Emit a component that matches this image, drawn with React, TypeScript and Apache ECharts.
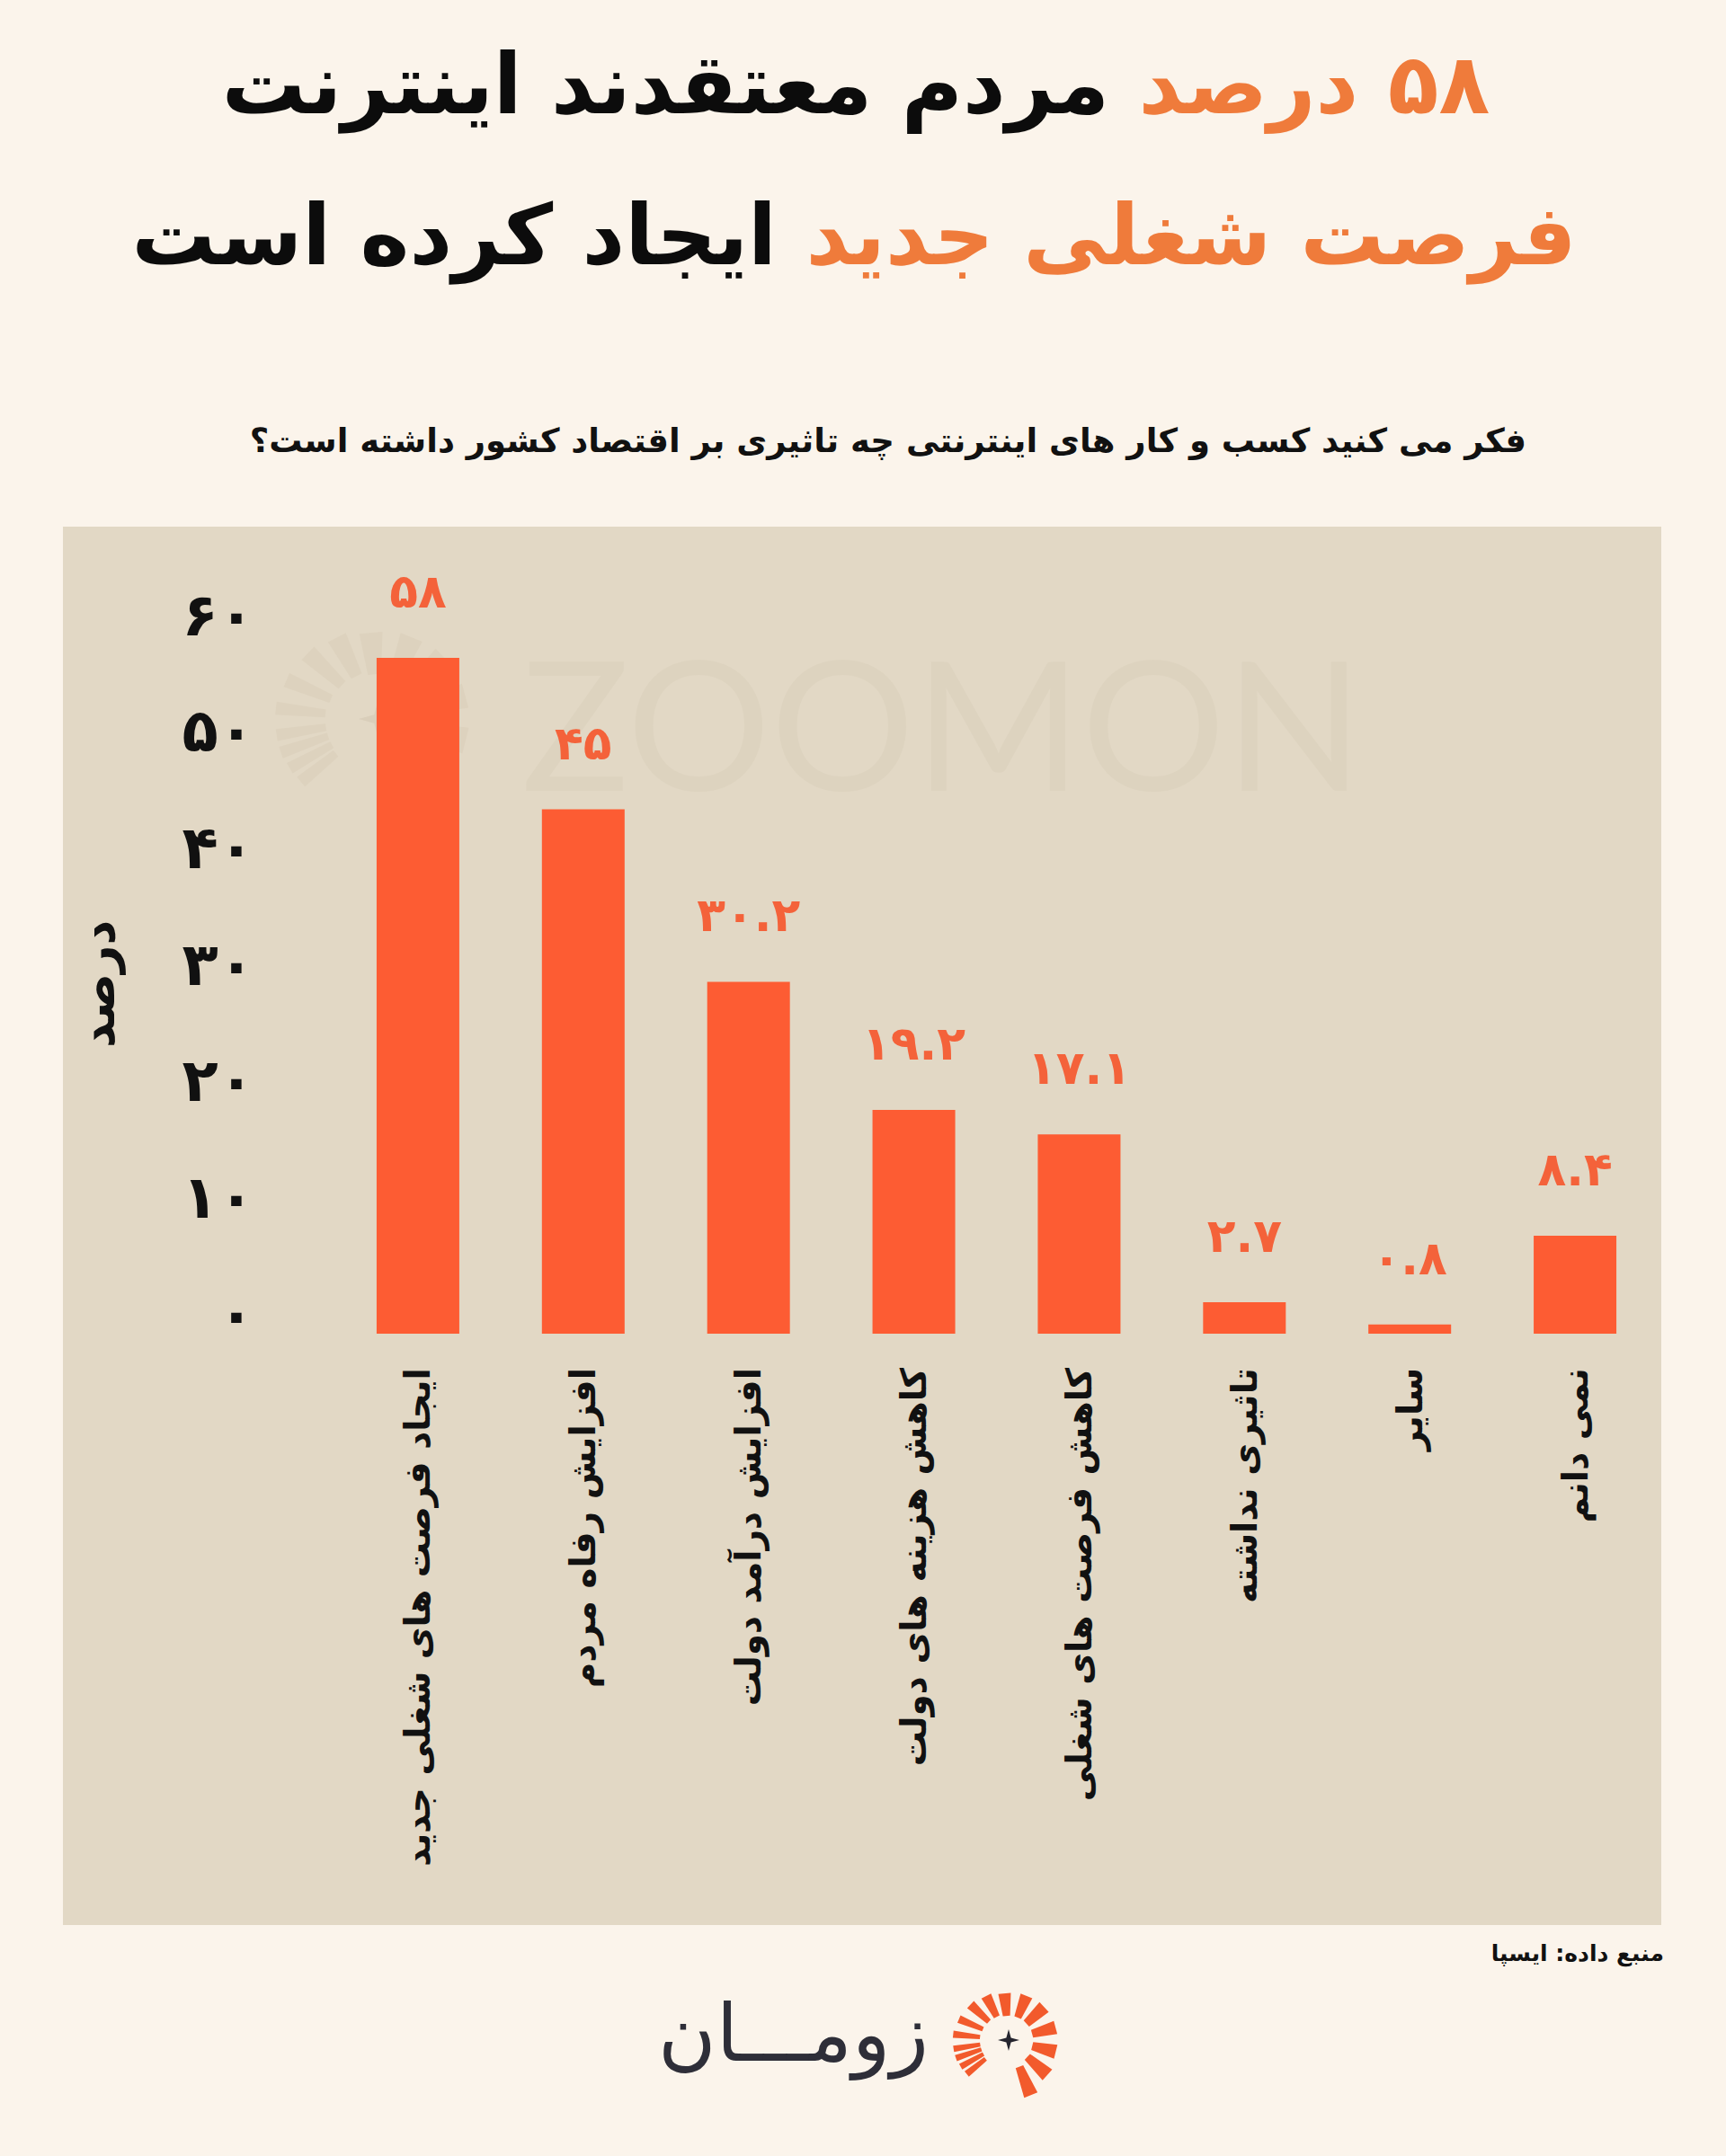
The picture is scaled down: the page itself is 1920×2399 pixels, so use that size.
import React, { useEffect, useRef } from "react";
import * as echarts from "echarts";

const categories = [
  "ایجاد فرصت های شغلی جدید",
  "افزایش رفاه مردم",
  "افزایش درآمد دولت",
  "کاهش هزینه های دولت",
  "کاهش فرصت های شغلی",
  "تاثیری نداشته",
  "سایر",
  "نمی دانم",
];
const values = [58, 45, 30.2, 19.2, 17.1, 2.7, 0.8, 8.4];
const yTickLabels = ["۰", "۱۰", "۲۰", "۳۰", "۴۰", "۵۰", "۶۰"];

const titleLine1Black = "مردم معتقدند اینترنت";
const titleLine1Number = "۵۸";
const titleLine1Word = "درصد";
const titleLine2Black = "ایجاد کرده است";
const titleLine2Orange = "فرصت شغلی جدید";
const subtitle = "فکر می کنید کسب و کار های اینترنتی چه تاثیری بر اقتصاد کشور داشته است؟";
const yAxisName = "درصد";
const sourceText = "منبع داده: ایسپا";
const brandText = "زومـــان";
const watermarkText = "ZOOMON";

const FA = "DejaVu Sans";
const BG = "#fbf4eb";
const PANEL = "#e2d8c5";
const BAR = "#fd5c33";
const LABEL_ORANGE = "#f4623a";
const TITLE_ORANGE = "#ef7b3b";

const toFa = (s: string) => s.replace(/[0-9]/g, (d) => "۰۱۲۳۴۵۶۷۸۹"[Number(d)]);

// sun logo: [angle(deg, screen clockwise), innerR, outerR, innerHalfW, outerHalfW]
const rays: number[][] = [
  [68, 32, 66, 4.5, 8],
  [42, 28, 58, 4.5, 8],
  [14, 27, 54, 4.5, 8],
  [-15, 27, 54, 4.5, 7.5],
  [-43, 27, 54, 4.5, 7.5],
  [-68, 27, 53, 4, 7],
  [-95, 27, 52, 4, 7],
  [-117, 29, 55, 3.5, 6],
  [-137, 30, 58, 3, 5.5],
  [-157, 31, 60, 2.6, 4.5],
  [-174, 32, 62, 2.4, 4],
  [171, 32, 62, 2.2, 3.6],
  [161, 32, 62, 2.2, 3.6],
  [151, 32, 61, 2.2, 3.6],
  [141, 33, 60, 2.4, 3.8],
];

function sunLogo(cx: number, cy: number, s: number, color: string, starColor: string, z: number) {
  const els: any[] = rays.map((r) => {
    const a = (r[0] * Math.PI) / 180;
    const ux = Math.cos(a), uy = Math.sin(a);
    const px = -uy, py = ux;
    const p = (rad: number, hw: number, sign: number) => [
      cx + (ux * rad + px * hw * sign) * s,
      cy + (uy * rad + py * hw * sign) * s,
    ];
    return {
      type: "polygon",
      z,
      shape: { points: [p(r[1], r[3], 1), p(r[2], r[4], 1), p(r[2], r[4], -1), p(r[1], r[3], -1)] },
      style: { fill: color },
    };
  });
  const st = 12 * s, sw = 2.6 * s;
  els.push({
    type: "polygon",
    z,
    shape: {
      points: [
        [cx, cy - st], [cx + sw, cy - sw], [cx + st, cy], [cx + sw, cy + sw],
        [cx, cy + st], [cx - sw, cy + sw], [cx - st, cy], [cx - sw, cy - sw],
      ],
    },
    style: { fill: starColor },
  });
  return els;
}

const titleRich = {
  b: { fontFamily: FA, fontWeight: "bold", fontSize: 93, fill: "#0c0c0c", color: "#0c0c0c" },
  o: { fontFamily: FA, fontWeight: "bold", fontSize: 93, fill: TITLE_ORANGE, color: TITLE_ORANGE },
};

export default function App() {
  const ref = useRef<HTMLDivElement>(null);
  useEffect(() => {
    document.body.style.margin = "0";
    const chart = echarts.init(ref.current!, null, { renderer: "svg" });
    const option: any = {
      animation: false,
      backgroundColor: BG,
      grid: { left: 373, right: 76, top: 706, bottom: 915 },
      xAxis: {
        type: "category",
        data: categories,
        axisLine: { show: false },
        axisTick: { show: false },
        axisLabel: {
          interval: 0,
          rotate: 90,
          margin: 38,
          fontFamily: FA,
          fontWeight: "bold",
          fontSize: 39,
          color: "#111",
        },
      },
      yAxis: {
        type: "value",
        min: 0,
        max: 60,
        interval: 10,
        name: yAxisName,
        nameLocation: "middle",
        nameGap: 238,
        nameRotate: 90,
        nameTextStyle: { fontFamily: FA, fontWeight: "bold", fontSize: 54, color: "#111" },
        axisLine: { show: false },
        axisTick: { show: false },
        splitLine: { show: false },
        axisLabel: {
          margin: 90,
          fontFamily: FA,
          fontWeight: "bold",
          fontSize: 66,
          lineHeight: 44,
          verticalAlign: "bottom",
          color: "#111",
          formatter: (v: number) => yTickLabels[Math.round(v / 10)] ?? toFa(String(v)),
        },
      },
      series: [
        {
          type: "bar",
          data: values,
          barWidth: 92,
          itemStyle: { color: BAR },
          z: 5,
          label: {
            show: true,
            position: "top",
            distance: 48,
            fontFamily: FA,
            fontWeight: "bold",
            fontSize: 52,
            color: LABEL_ORANGE,
            formatter: (p: any) => toFa(String(p.value)),
          },
        },
      ],
      graphic: [
        {
          type: "rect",
          z: -20,
          shape: { x: 70, y: 586, width: 1778, height: 1556 },
          style: { fill: PANEL },
        },
        {
          type: "text",
          z: -10,
          x: 1048,
          y: 803,
          style: {
            text: watermarkText,
            font: "200px Lato",
            fill: "#ddd3bf",
            align: "center",
            verticalAlign: "middle",
          },
        },
        ...sunLogo(421, 800, 1.85, "#ddd2be", "#d9ceba", -10),
        {
          type: "text",
          x: 952,
          y: 94,
          style: {
            text: `{b|${titleLine1Black} }{o|${titleLine1Word} }{o|${titleLine1Number}}`,
            align: "center",
            verticalAlign: "middle",
            rich: titleRich,
          },
        },
        {
          type: "text",
          x: 950,
          y: 262,
          style: {
            text: `{b|${titleLine2Black} }{o|${titleLine2Orange}}`,
            align: "center",
            verticalAlign: "middle",
            rich: titleRich,
          },
        },
        {
          type: "text",
          x: 1698,
          y: 490,
          style: {
            text: subtitle,
            font: `bold 37px '${FA}'`,
            fill: "#111",
            align: "right",
            verticalAlign: "middle",
          },
        },
        {
          type: "text",
          x: 1851,
          y: 2173,
          style: {
            text: sourceText,
            font: `bold 25px '${FA}'`,
            fill: "#111",
            align: "right",
            verticalAlign: "middle",
          },
        },
        {
          type: "text",
          x: 1033,
          y: 2262,
          style: {
            text: brandText,
            font: `88px '${FA}'`,
            fill: "#2e2e38",
            align: "right",
            verticalAlign: "middle",
          },
        },
        ...sunLogo(1122, 2270, 1, "#f25a2c", "#25252f", 1),
      ],
    };
    chart.setOption(option);
    return () => chart.dispose();
  }, []);
  return <div ref={ref} style={{ width: 1920, height: 2399 }} />;
}
